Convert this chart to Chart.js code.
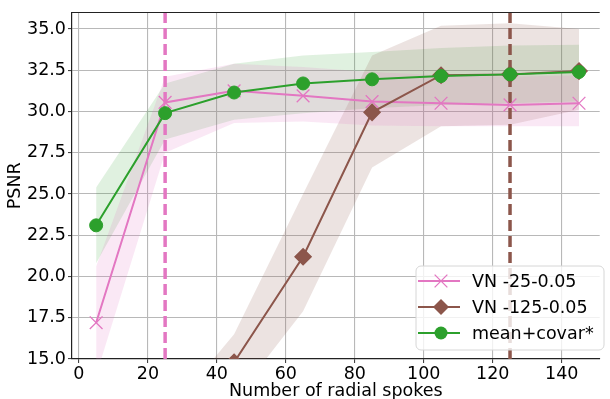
<!DOCTYPE html>
<html>
<head>
<meta charset="utf-8">
<script src="https://cdn.jsdelivr.net/npm/chart.js@4.4.0/dist/chart.umd.min.js"></script>
<style>
  html, body { margin: 0; padding: 0; background: #fff; overflow: hidden; }
</style>
</head>
<body>
<canvas id="myChart" width="610" height="399"></canvas>
<script>
// data
var spokes = [5, 25, 45, 65, 85, 105, 125, 145];

var vn25Mean = [17.2, 30.55, 31.25, 30.95, 30.6, 30.5, 30.4, 30.5];
var vn25Low = [14.0, 27.5, 29.3, 29.4, 29.15, 29.1, 29.1, 29.1];
var vn25High = [20.6, 32.1, 32.9, 32.7, 32.4, 32.2, 32.1, 32.2];

var vn125Mean = [8.0, 10.5, 14.8, 21.2, 29.95, 32.2, 32.25, 32.45];
var vn125Low = [4.0, 7.0, 12.5, 17.9, 26.6, 29.1, 29.2, 30.1];
var vn125High = [9.0, 11.5, 16.5, 25.0, 33.4, 35.2, 35.35, 35.0];

var covarMean = [23.1, 29.9, 31.15, 31.7, 31.95, 32.15, 32.25, 32.4];
var covarLow = [20.8, 28.3, 29.5, 29.9, 30.2, 30.4, 30.5, 30.6];
var covarHigh = [25.4, 31.7, 32.9, 33.4, 33.6, 33.85, 34.0, 34.05];

var cutoffs = [25, 125];
var labels = ["VN -25-0.05", "VN -125-0.05", "mean+covar*"];

var xTicks = [0, 20, 40, 60, 80, 100, 120, 140];
var yTicks = [15.0, 17.5, 20.0, 22.5, 25.0, 27.5, 30.0, 32.5, 35.0];
var xMin = -2, xMax = 151, yMin = 15, yMax = 36;

var pink = "#e377c2", brown = "#8c564b", green = "#2ca02c";
var font = { family: "DejaVu Sans", size: 17.5 };

function pts(ys) {
  return spokes.map(function(x, i) { return { x: x, y: ys[i] }; });
}

function bandPair(low, high, fillColor) {
  return [
    { data: pts(low), borderWidth: 0, borderColor: "rgba(0,0,0,0)", pointRadius: 0, fill: false, order: 10, band: true },
    { data: pts(high), borderWidth: 0, borderColor: "rgba(0,0,0,0)", pointRadius: 0, fill: "-1", backgroundColor: fillColor, order: 10, band: true }
  ];
}

function vline(x, color) {
  return {
    data: [{ x: x, y: yMin }, { x: x, y: yMax }],
    borderColor: color, borderWidth: 3.5, borderDash: [11, 5],
    pointRadius: 0, fill: false, order: 5, band: true
  };
}

var datasets = []
  .concat(bandPair(vn25Low, vn25High, "rgba(227,119,194,0.17)"))
  .concat(bandPair(vn125Low, vn125High, "rgba(140,86,75,0.17)"))
  .concat(bandPair(covarLow, covarHigh, "rgba(44,160,44,0.15)"))
  .concat([vline(cutoffs[0], pink), vline(cutoffs[1], brown)])
  .concat([
    { label: labels[0], data: pts(vn25Mean), borderColor: pink, backgroundColor: pink, borderWidth: 2,
      pointStyle: "crossRot", pointRadius: 9, pointBorderWidth: 1.3, fill: false, order: 3 },
    { label: labels[1], data: pts(vn125Mean), borderColor: brown, backgroundColor: brown, borderWidth: 2,
      pointStyle: "rectRot", pointRadius: 8, pointBorderWidth: 1.5, fill: false, order: 2 },
    { label: labels[2], data: pts(covarMean), borderColor: green, backgroundColor: green, borderWidth: 2,
      pointStyle: "circle", pointRadius: 6.5, pointBorderWidth: 1, fill: false, order: 1 }
  ]);

// top spine
var spinePlugin = {
  id: "spines",
  afterDraw: function(chart) {
    var ctx = chart.ctx, a = chart.chartArea;
    ctx.save();
    ctx.strokeStyle = "#222";
    ctx.lineWidth = 1.2;
    ctx.beginPath();
    ctx.moveTo(a.left, a.top);
    ctx.lineTo(a.right, a.top);
    ctx.stroke();
    ctx.restore();
  }
};

function marker(ctx, style, x, y, r, color) {
  ctx.fillStyle = color;
  ctx.strokeStyle = color;
  ctx.beginPath();
  if (style === "crossRot") {
    var d = r * Math.SQRT1_2;
    ctx.lineWidth = 1.3;
    ctx.moveTo(x - d, y - d); ctx.lineTo(x + d, y + d);
    ctx.moveTo(x - d, y + d); ctx.lineTo(x + d, y - d);
    ctx.stroke();
  } else if (style === "rectRot") {
    ctx.moveTo(x, y - r); ctx.lineTo(x + r, y); ctx.lineTo(x, y + r); ctx.lineTo(x - r, y);
    ctx.closePath();
    ctx.fill();
  } else {
    ctx.arc(x, y, r, 0, Math.PI * 2);
    ctx.fill();
  }
}

// legend inside the axes, lower right
var legendPlugin = {
  id: "boxLegend",
  afterDraw: function(chart) {
    var ctx = chart.ctx;
    var items = chart.data.datasets.filter(function(d) { return !d.band; });
    var bx = 416, by = 266, bw = 188, bh = 84, rowH = 26;
    ctx.save();
    ctx.beginPath();
    ctx.roundRect(bx, by, bw, bh, 5);
    ctx.fillStyle = "rgba(255,255,255,0.8)";
    ctx.fill();
    ctx.strokeStyle = "#d6d6d6";
    ctx.lineWidth = 1;
    ctx.stroke();
    ctx.font = font.size + "px " + font.family;
    ctx.textBaseline = "middle";
    items.forEach(function(d, i) {
      var y = by + 15 + i * rowH;
      ctx.strokeStyle = d.borderColor;
      ctx.lineWidth = 2;
      ctx.beginPath();
      ctx.moveTo(bx + 2, y);
      ctx.lineTo(bx + 44, y);
      ctx.stroke();
      marker(ctx, d.pointStyle, bx + 25, y, d.pointRadius, d.borderColor);
      ctx.fillStyle = "#000";
      ctx.fillText(d.label, bx + 56, y + 1);
    });
    ctx.restore();
  }
};

var ctx = document.getElementById("myChart").getContext("2d");
var chart = new Chart(ctx, {
  type: "line",
  data: { datasets: datasets },
  options: {
    responsive: false,
    animation: false,
    layout: { padding: { top: 9, right: 0, left: 0, bottom: 0 } },
    plugins: { legend: { display: false }, tooltip: { enabled: false } },
    scales: {
      x: {
        type: "linear", min: xMin, max: xMax,
        afterBuildTicks: function(s) { s.ticks = xTicks.map(function(v) { return { value: v }; }); },
        afterFit: function(s) { s.height = 40; },
        ticks: { font: font, color: "#000", padding: 1, maxRotation: 0 },
        grid: { color: "#b8b8b8", lineWidth: 1.1, drawTicks: true, tickLength: 4, tickColor: "#444" },
        border: { color: "#222", width: 1.2 },
        title: { display: true, text: "Number of radial spokes", font: font, color: "#000", padding: { top: 0, bottom: -3 } }
      },
      y: {
        type: "linear", min: yMin, max: yMax,
        afterBuildTicks: function(s) { s.ticks = yTicks.map(function(v) { return { value: v }; }); },
        afterFit: function(s) { s.width = 72; },
        ticks: { font: font, color: "#000", padding: 2, callback: function(v) { return v.toFixed(1); } },
        grid: { color: "#b8b8b8", lineWidth: 1.1, drawTicks: true, tickLength: 4, tickColor: "#444" },
        border: { color: "#222", width: 1.2 },
        title: { display: true, text: "PSNR", font: font, color: "#000", padding: { top: 5, bottom: 0 } }
      }
    }
  },
  plugins: [spinePlugin, legendPlugin]
});
</script>
</body>
</html>
